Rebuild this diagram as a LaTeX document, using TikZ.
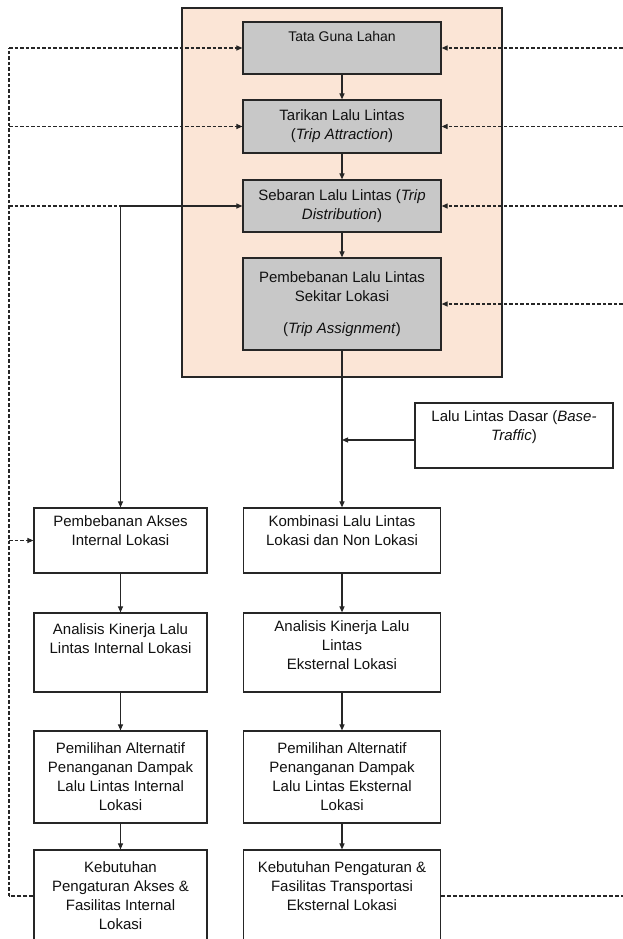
\documentclass[tikz,border=0pt]{standalone}
\usepackage{fontspec}
\setmainfont{Liberation Sans}
\usetikzlibrary{arrows.meta,calc}
\definecolor{impactpanel}{HTML}{FBE5D6}
\definecolor{impactstage}{HTML}{C8C8C8}
\definecolor{impactborder}{HTML}{262626}
\definecolor{impacttext}{HTML}{111111}
\tikzset{
  impact box/.style={
    rectangle, draw=impactborder, fill=white, text=impacttext,
    line width=1.2pt, inner sep=2pt,
    minimum width=197pt, minimum height=65pt,
    font=\fontsize{15}{19}\selectfont, align=center
  },
  impact side/.style={impact box, minimum width=173pt},
  impact stage/.style={impact box, fill=impactstage, minimum width=198pt},
  impact panel/.style={
    rectangle, draw=impactborder, fill=impactpanel, line width=1.2pt,
    minimum width=320pt, minimum height=369pt
  },
  impact line/.style={draw=impactborder, line width=1.1pt},
  impact arrow/.style={impact line, -{Triangle[length=6pt,width=5pt]}},
  feedback line/.style={impact line, dash pattern=on 3.5pt off 2pt},
  feedback arrow/.style={feedback line, -{Triangle[length=6pt,width=5pt]}},
  feedback bold/.style={feedback line, line width=1.8pt, dash pattern=on 4pt off 2pt}
}

\begin{document}
\begin{tikzpicture}[x=1pt,y=-1pt]
  \useasboundingbox (0,0) rectangle (623,939);
  \node[impact panel] (panel) at (342,192.5) {};

  \node[impact stage,minimum height=52pt,font=\fontsize{14}{19}\selectfont] (landuse) at (342,48) {Tata Guna Lahan\\[4pt]~};
  \node[impact stage,minimum height=53pt] (attraction) at (342,126.5) {Tarikan Lalu Lintas\\(\textit{Trip Attraction})};
  \node[impact stage,minimum height=52pt] (distribution) at (342,206) {Sebaran Lalu Lintas (\textit{Trip}\\\textit{Distribution})};
  \node[impact stage,minimum height=92pt] (assignment) at (342,304) {Pembebanan Lalu Lintas\\Sekitar Lokasi\\[13pt](\textit{Trip Assignment})};

  \node[impact box,minimum width=198pt] (basetraffic) at (514,435.5) {Lalu Lintas Dasar (\textit{Base-}\\\textit{Traffic})\\~};

  \node[impact side] (intaccess) at (120.5,540.5) {Pembebanan Akses\\Internal Lokasi\\~};
  \node[impact box] (combination) at (342,540.5) {Kombinasi Lalu Lintas\\Lokasi dan Non Lokasi\\~};
  \node[impact side,minimum height=79pt] (intperf) at (120.5,652.5) {Analisis Kinerja Lalu\\Lintas Internal Lokasi\\[8pt]~};
  \node[impact box,minimum height=79pt] (extperf) at (342,652.5) {Analisis Kinerja Lalu\\Lintas\\Eksternal Lokasi\\[-4pt]~};
  \node[impact side,minimum height=92pt] (intoption) at (120.5,777) {Pemilihan Alternatif\\Penanganan Dampak\\Lalu Lintas Internal\\Lokasi};
  \node[impact box,minimum height=92pt] (extoption) at (342,777) {Pemilihan Alternatif\\Penanganan Dampak\\Lalu Lintas Eksternal\\Lokasi};
  \node[impact side,minimum height=92pt] (intneed) at (120.5,896) {Kebutuhan\\Pengaturan Akses \&\\Fasilitas Internal\\Lokasi};
  \node[impact box,minimum height=92pt] (extneed) at (342,896) {Kebutuhan Pengaturan \&\\Fasilitas Transportasi\\Eksternal Lokasi\\~};

  % main flow
  \draw[impact arrow] (landuse.south) -- (attraction.north);
  \draw[impact arrow] (attraction.south) -- (distribution.north);
  \draw[impact arrow] (distribution.south) -- (assignment.north);
  \draw[impact arrow] (assignment.south) -- (combination.north);
  \coordinate (merge) at (342,440);
  \draw[impact arrow] (basetraffic.west |- merge) -- (merge);
  \coordinate (split) at (intaccess.north |- distribution.west);
  \draw[impact arrow] (split) -- (distribution.west);
  \draw[impact arrow] (split) -- (intaccess.north);
  \draw[impact arrow] (intaccess.south) -- (intperf.north);
  \draw[impact arrow] (intperf.south) -- (intoption.north);
  \draw[impact arrow] (intoption.south) -- (intneed.north);
  \draw[impact arrow] (combination.south) -- (extperf.north);
  \draw[impact arrow] (extperf.south) -- (extoption.north);
  \draw[impact arrow] (extoption.south) -- (extneed.north);

  % feedback loops
  \coordinate (fbleft) at (9,896);
  \coordinate (fbright) at (628,896);
  \draw[feedback bold] (intneed.west) -- (fbleft);
  \draw[feedback line] (fbleft) -- (fbleft |- landuse.west);
  \draw[feedback arrow] (fbleft |- landuse.west) -- (landuse.west);
  \draw[feedback arrow] (fbleft |- attraction.west) -- (attraction.west);
  \draw[feedback line] (fbleft |- distribution.west) -- (split);
  \draw[feedback arrow] (fbleft |- intaccess.west) -- (intaccess.west);
  \draw[feedback bold] (extneed.east) -- (fbright);
  \draw[feedback line] (fbright) -- (fbright |- landuse.east);
  \draw[feedback arrow] (fbright |- landuse.east) -- (landuse.east);
  \draw[feedback arrow] (fbright |- attraction.east) -- (attraction.east);
  \draw[feedback arrow] (fbright |- distribution.east) -- (distribution.east);
  \draw[feedback arrow] (fbright |- assignment.east) -- (assignment.east);
\end{tikzpicture}
\end{document}
